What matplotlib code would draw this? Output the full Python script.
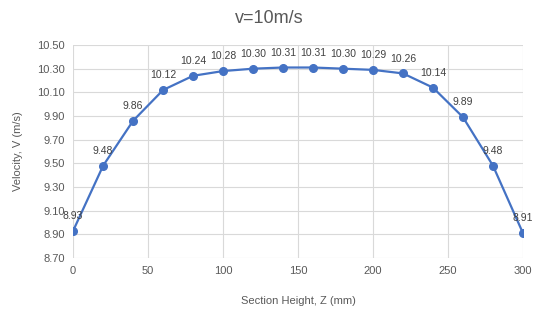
import matplotlib.pyplot as plt

# section height (mm) and velocity (m/s)
heights = [0, 20, 40, 60, 80, 100, 120, 140, 160, 180, 200, 220, 240, 260, 280, 300]
velocity = [8.93, 9.48, 9.86, 10.12, 10.24, 10.28, 10.30, 10.31, 10.31, 10.30,
            10.29, 10.26, 10.14, 9.89, 9.48, 8.91]
x_ticks = [0, 50, 100, 150, 200, 250, 300]
y_ticks = [8.70, 8.90, 9.10, 9.30, 9.50, 9.70, 9.90, 10.10, 10.30, 10.50]

plt.rcParams['font.family'] = ['Liberation Sans', 'DejaVu Sans']

fig = plt.figure(figsize=(5.38, 3.24), dpi=100)
ax = fig.add_axes([0.136, 0.204, 0.836, 0.657])

ax.plot(heights, velocity, color='#4472C4', linewidth=1.6, marker='o', markersize=5.5, zorder=3)
for h, v in zip(heights, velocity):
    ax.annotate(f'{v:.2f}', (h, v), textcoords='offset points', xytext=(0, 7),
                ha='center', va='bottom', fontsize=7.5, color='#404040')

ax.set_xlim(0, 300)
ax.set_ylim(8.70, 10.50)
ax.set_xticks(x_ticks)
ax.set_yticks(y_ticks)
ax.set_yticklabels([f'{t:.2f}' for t in y_ticks])
ax.grid(True, color='#D9D9D9', linewidth=0.8)
ax.set_axisbelow(True)
for s in ax.spines.values():
    s.set_visible(False)
ax.tick_params(length=0, labelsize=8, labelcolor='#595959', pad=6)

ax.set_xlabel('Section Height, Z (mm)', fontsize=8, color='#595959', labelpad=14)
ax.set_ylabel('Velocity, V (m/s)', fontsize=8, color='#595959', labelpad=10)
fig.suptitle('v=10m/s', y=0.97, fontsize=13, color='#595959')

fig.savefig('out.png', dpi=100)
